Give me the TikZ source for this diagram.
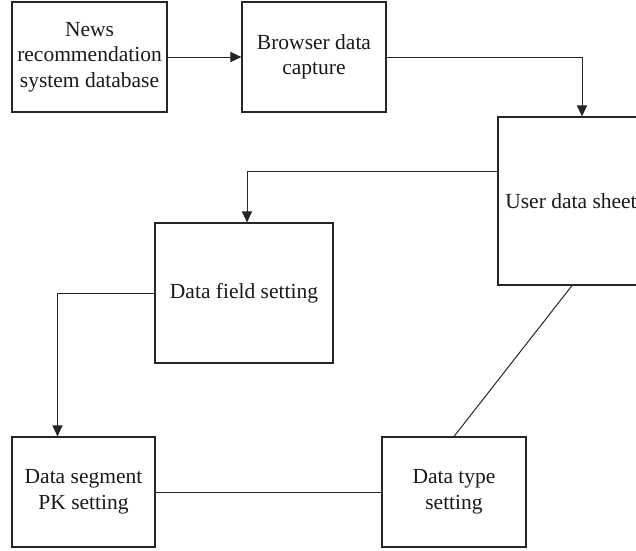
\documentclass[tikz,border=0pt]{standalone}
\usepackage{fontspec}
\setmainfont{Liberation Serif}
\usetikzlibrary{arrows.meta}
\begin{document}
\begin{tikzpicture}[x=1pt,y=1pt,
  box/.style={draw=black!85, line width=1.1pt, rectangle, align=center,
    inner sep=0pt, font=\fontsize{21.5}{25.5}\selectfont, text=black!90},
  link/.style={draw=black!85, line width=1pt},
  flow/.style={link, -{Triangle[length=11pt,width=10pt]}}]
  \useasboundingbox (0,0) rectangle (636,-550);
  % process boxes, placed by their centres
  \node[box, minimum width=155pt, minimum height=110pt] (db) at (89.5,-57)
    {News\\recommendation\\system database};
  \node[box, minimum width=144pt, minimum height=110pt] (capture) at (314,-57)
    {Browser data\\capture};
  \node[box, minimum width=146pt, minimum height=168pt] (sheet) at (571,-201)
    {User data sheet};
  \node[box, minimum width=178pt, minimum height=140pt] (field) at (244,-293)
    {Data field setting};
  \node[box, minimum width=143pt, minimum height=110pt] (segment) at (83.5,-492)
    {Data segment\\PK setting};
  \node[box, minimum width=144pt, minimum height=110pt] (type) at (454,-492)
    {Data type\\setting};
  % connectors
  \draw[flow] (capture.east) -| ([xshift=11pt]sheet.north);
  \draw[flow] (db.east) -- (capture.west);
  \draw[flow] ([yshift=30pt]sheet.west) -| ([xshift=3pt]field.north);
  \draw[flow] (field.west) -| ([xshift=-26pt]segment.north);
  \draw[link] (segment.east) -- (type.west);
  \draw[link] (type.north) -- ([xshift=1pt]sheet.south);
\end{tikzpicture}
\end{document}
